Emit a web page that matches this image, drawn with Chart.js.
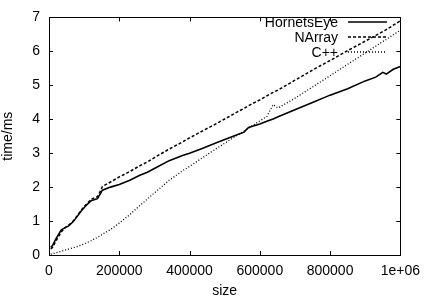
<!DOCTYPE html>
<html>
<head>
<meta charset="utf-8">
<script src="https://cdn.jsdelivr.net/npm/chart.js@4/dist/chart.umd.min.js"></script>
<style>
  body { margin: 0; background: #fff; }
  canvas { display: block; }
</style>
</head>
<body>
<canvas id="timing" width="428" height="306"></canvas>
<script>
// array sizes (x axis)
var sizes = [5000, 10000, 20000, 35000, 45000, 55000, 68000, 80000, 91000, 105000,
  120000, 138000, 146000, 152000, 175000, 200000, 230000, 257000, 280000, 300000,
  342000, 380000, 400000, 436000, 480000, 530000, 555000, 568000, 600000, 620000,
  638000, 652000, 700000, 750000, 800000, 850000, 900000, 930000, 950000, 960000,
  980000, 1000000];

var hornetsEye = [0.22, 0.28, 0.48, 0.74, 0.80, 0.85, 0.97, 1.13, 1.29, 1.45,
  1.60, 1.66, 1.80, 1.91, 2.00, 2.08, 2.20, 2.34, 2.44, 2.55,
  2.78, 2.93, 3.00, 3.14, 3.32, 3.52, 3.62, 3.76, 3.86, 3.94,
  4.01, 4.07, 4.28, 4.49, 4.71, 4.90, 5.13, 5.24, 5.38, 5.33,
  5.47, 5.55];

var nArray = [0.18, 0.22, 0.42, 0.68, 0.80, 0.87, 0.99, 1.15, 1.31, 1.48,
  1.64, 1.72, 1.88, 2.02, 2.15, 2.30, 2.46, 2.62, 2.74, 2.87,
  3.12, 3.33, 3.45, 3.65, 3.89, 4.18, 4.32, 4.40, 4.57, 4.69,
  4.79, 4.86, 5.15, 5.45, 5.73, 6.02, 6.30, 6.47, 6.58, 6.64,
  6.77, 6.90];

var cpp = [0.02, 0.04, 0.07, 0.11, 0.14, 0.17, 0.21, 0.25, 0.29, 0.35,
  0.42, 0.52, 0.57, 0.61, 0.75, 0.94, 1.19, 1.44, 1.65, 1.83,
  2.20, 2.48, 2.61, 2.86, 3.16, 3.49, 3.65, 3.74, 3.95, 4.08,
  4.43, 4.33, 4.62, 4.95, 5.28, 5.62, 5.95, 6.15, 6.29, 6.35,
  6.49, 6.62];

var FONT = { family: "'Liberation Sans', Arial, sans-serif", size: 14 };

function points(ys) {
  return sizes.map(function (x, i) { return { x: x, y: ys[i] }; });
}

// gnuplot style frame with inward ticks on all four sides
var framePlugin = {
  id: 'frame',
  afterDraw: function (chart) {
    var ctx = chart.ctx;
    var a = chart.chartArea;
    var xs = chart.scales.x, ys = chart.scales.y;
    var len = 4;
    ctx.save();
    ctx.strokeStyle = '#000';
    ctx.lineWidth = 1;
    ctx.beginPath();
    xs.ticks.forEach(function (t) {
      var px = Math.round(xs.getPixelForValue(t.value)) + 0.5;
      ctx.moveTo(px, a.bottom); ctx.lineTo(px, a.bottom - len);
      ctx.moveTo(px, a.top); ctx.lineTo(px, a.top + len);
    });
    ys.ticks.forEach(function (t) {
      var py = Math.round(ys.getPixelForValue(t.value)) + 0.5;
      ctx.moveTo(a.left, py); ctx.lineTo(a.left + len, py);
      ctx.moveTo(a.right, py); ctx.lineTo(a.right - len, py);
    });
    ctx.stroke();
    ctx.strokeRect(Math.round(a.left) + 0.5, Math.round(a.top) + 0.5,
      Math.round(a.right - a.left), Math.round(a.bottom - a.top));

    // key, top right: text right aligned, line sample after it
    var textRight = 338, sx0 = 348, sx1 = 387, y0 = 22, step = 15;
    ctx.font = FONT.size + 'px ' + FONT.family;
    ctx.textAlign = 'right';
    ctx.textBaseline = 'middle';
    ctx.fillStyle = '#000';
    chart.data.datasets.forEach(function (ds, i) {
      var y = y0 + i * step;
      ctx.fillText(ds.label, textRight, y + 1);
      ctx.beginPath();
      ctx.setLineDash(ds.borderDash || []);
      ctx.lineWidth = ds.borderWidth;
      ctx.moveTo(sx0, y); ctx.lineTo(sx1, y);
      ctx.stroke();
    });
    ctx.restore();
  }
};

new Chart(document.getElementById('timing').getContext('2d'), {
  type: 'line',
  data: {
    datasets: [
      { label: 'HornetsEye', data: points(hornetsEye), borderColor: '#000',
        borderWidth: 1.6, pointRadius: 0, tension: 0 },
      { label: 'NArray', data: points(nArray), borderColor: '#000',
        borderWidth: 1.5, borderDash: [3, 2], pointRadius: 0, tension: 0 },
      { label: 'C++', data: points(cpp), borderColor: '#000',
        borderWidth: 1.3, borderDash: [1, 2], pointRadius: 0, tension: 0 }
    ]
  },
  options: {
    responsive: false,
    animation: false,
    layout: { padding: { top: 10, right: 25, left: 0, bottom: 0 } },
    plugins: { legend: { display: false }, tooltip: { enabled: false } },
    scales: {
      x: {
        type: 'linear', min: 0, max: 1000000,
        grid: { display: false, drawTicks: false },
        border: { display: false },
        ticks: {
          stepSize: 200000, color: '#000', font: FONT, padding: 8, maxRotation: 0,
          callback: function (v) { return v === 1000000 ? '1e+06' : String(v); }
        },
        title: { display: true, text: 'size', color: '#000', font: FONT,
          padding: { top: 0, bottom: 6 } },
        afterFit: function (s) { s.height = 51; }
      },
      y: {
        min: 0, max: 7,
        grid: { display: false, drawTicks: false },
        border: { display: false },
        ticks: { stepSize: 1, color: '#000', font: FONT, padding: 9 },
        title: { display: true, text: 'time/ms', color: '#000', font: FONT,
          padding: { top: 0, bottom: 0 } },
        afterFit: function (s) { s.width = 49; }
      }
    }
  },
  plugins: [framePlugin]
});
</script>
</body>
</html>
